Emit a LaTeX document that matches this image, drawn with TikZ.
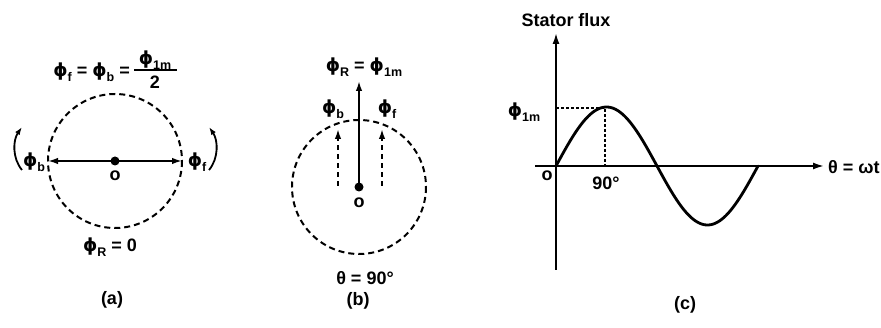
\documentclass[tikz,border=0pt]{standalone}
\usepackage{fontspec}
\setmainfont{Liberation Sans}
\newfontfamily\gk{DejaVu Sans}
\usetikzlibrary{arrows.meta}
\newcommand\ph{{\gk\bfseries ϕ}}
\newcommand\sbs[1]{\raisebox{-0.5ex}{\fontsize{12.5}{13}\selectfont\bfseries #1}}
\begin{document}
\begin{tikzpicture}[x=1pt,y=-1pt,
  every node/.style={font=\fontsize{18}{20}\selectfont\bfseries, inner sep=0pt},
  vec/.style={line width=1.8pt, -{Latex[length=10pt,width=6.5pt]}},
  dvec/.style={line width=1.8pt, dash pattern=on 5pt off 4pt, -{Latex[length=10pt,width=6.5pt]}},
  dashcirc/.style={line width=2pt, dash pattern=on 6pt off 4pt},
  axis/.style={line width=1.8pt, -{Latex[length=11pt,width=7pt]}},
  guide/.style={line width=1.1pt, dash pattern=on 3pt off 2pt},
  rot/.style={line width=1.8pt, -{Latex[length=8pt,width=5.5pt]}}]
\useasboundingbox (0,0) rectangle (881,328);
% ---------- (a)
\coordinate (ca) at (115,161);
\coordinate (aL) at (48,161);
\coordinate (aR) at (182,161);
\draw[dashcirc] (ca) circle[radius=67];
\draw[vec] (ca) -- (aL);
\draw[vec] (ca) -- (aR);
\fill (ca) circle[radius=4.5];
\node (oa) at (115,176) {o};
\node (phib) at (34,162) {\ph\sbs{b}};
\node (phif) at (197,162) {\ph\sbs{f}};
\coordinate (rlb) at (22,170);
\coordinate (rlt) at (22,127);
\coordinate (rrb) at (209,170);
\coordinate (rrt) at (209,127);
\draw[rot] (rlb) .. controls (12,158) and (13,140) .. (rlt);
\draw[rot] (rrb) .. controls (219,158) and (218,140) .. (rrt);
\node[anchor=east] (topa) at (130,72) {\ph\sbs{f} = \ph\sbs{b} =};
\node (numa) at (155,60) {\ph\sbs{1m}};
\coordinate (barl) at (134,70);
\coordinate (barr) at (177,70);
\draw[line width=1.3pt] (barl) -- (barr);
\node (dena) at (155,82) {2};
\node (bota) at (110,247) {\ph\sbs{R} = 0};
\node (capa) at (112,300) {(a)};
% ---------- (b)
\coordinate (cb) at (359,187);
\coordinate (tipR) at (359,81);
\coordinate (bbl) at (338,186);
\coordinate (btl) at (338,129);
\coordinate (bbr) at (382,186);
\coordinate (btr) at (382,129);
\draw[dashcirc] (cb) circle[radius=67];
\draw[vec] (cb) -- (tipR);
\draw[dvec] (bbl) -- (btl);
\draw[dvec] (bbr) -- (btr);
\fill (cb) circle[radius=4.5];
\node (ob) at (359,203) {o};
\node (labR) at (364,67) {\ph\sbs{R} = \ph\sbs{1m}};
\node (labb) at (333,109) {\ph\sbs{b}};
\node (labf) at (387,109) {\ph\sbs{f}};
\node (thb) at (365,278) {θ = 90°};
\node (capb) at (358,301) {(b)};
% ---------- (c)
\coordinate (O) at (556,166);
\coordinate (yb) at (556,270);
\coordinate (yt) at (556,33);
\coordinate (xl) at (535,166);
\coordinate (xr) at (824,166);
\coordinate (pk) at (605,108);
\coordinate (pky) at (556,108);
\coordinate (pkx) at (605,166);
\draw[axis] (yb) -- (yt);
\draw[axis] (xl) -- (xr);
\draw[guide] (pky) -- (pk) -- (pkx);
\draw[line width=2.8pt, line cap=round] plot[domain=0:360, samples=120, smooth] ({556+\x*0.56111},{166-59*sin(\x)});
\node (sf) at (566,20) {Stator flux};
\node (phim) at (524,112) {\ph\sbs{1m}};
\node (oc) at (547,176) {o};
\node (n90) at (606,183) {90°};
\node[anchor=west] (th) at (828,167) {θ = ωt};
\node (capc) at (685,305) {(c)};
\end{tikzpicture}
\end{document}
